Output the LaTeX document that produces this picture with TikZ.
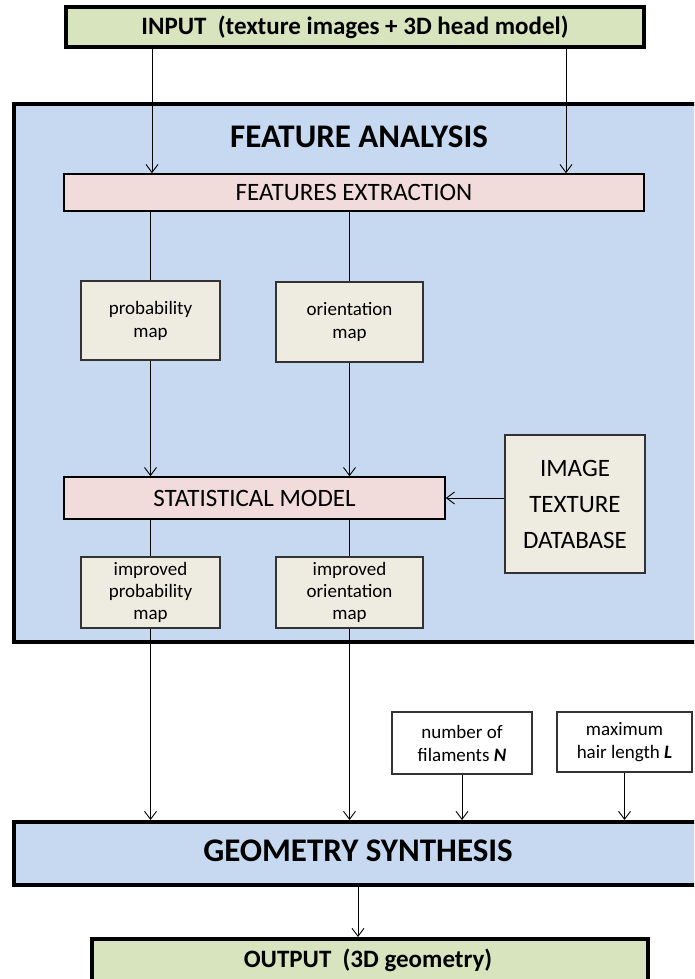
\documentclass[tikz,border=0pt]{standalone}
\usepackage{fontspec}
\setmainfont{Carlito}
\usetikzlibrary{arrows.meta}
\definecolor{grn}{HTML}{D7E4BD}
\definecolor{blu}{HTML}{C6D9F1}
\definecolor{pnk}{HTML}{F2DCDB}
\definecolor{bge}{HTML}{EEECE1}
\begin{document}
\begin{tikzpicture}[x=1pt,y=-1pt,
  bigbox/.style={draw=black, line width=4pt, inner sep=0pt},
  midbox/.style={draw=black, line width=1.6pt, fill=pnk, inner sep=0pt, font=\fontsize{25}{30}\selectfont},
  smallbox/.style={draw=black!80, line width=1.3pt, fill=bge, inner sep=0pt, align=center, font=\fontsize{19}{23}\selectfont},
  parbox/.style={draw=black!80, line width=1.2pt, fill=white, inner sep=0pt, align=center, font=\fontsize{19}{23}\selectfont},
  arr/.style={-{Straight Barb[length=8pt,width=12pt]}, line width=0.9pt},
  ln/.style={line width=0.9pt}]
\useasboundingbox (0,0) rectangle (694,979);
\clip (0,0) rectangle (694,979);
% input
\node[bigbox, fill=grn, minimum width=578pt, minimum height=40pt,
      font=\bfseries\fontsize{25}{30}\selectfont] (in) at (355,27) {INPUT~~(texture images + 3D head model)};
% feature analysis frame
\node[bigbox, fill=blu, minimum width=708pt, minimum height=538pt, anchor=north west] (fa) at (12,102) {};
\node[font=\bfseries\fontsize{33}{40}\selectfont, inner sep=0pt] (fat) at (359,137) {FEATURE ANALYSIS};
\node[midbox, minimum width=580pt, minimum height=37pt] (fe) at (354,192.5) {FEATURES EXTRACTION};
\node[smallbox, minimum width=139pt, minimum height=79pt] (pm) at (150.5,320.5) {probability\\map};
\node[smallbox, minimum width=147pt, minimum height=80pt] (om) at (349.5,322) {orientation\\map};
\node[midbox, minimum width=381pt, minimum height=42pt] (sm) at (254.5,498) {STATISTICAL MODEL};
\node[smallbox, minimum width=140pt, minimum height=138pt, font=\fontsize{25}{36}\selectfont] (itd) at (575,504) {IMAGE\\TEXTURE\\DATABASE};
\node[smallbox, minimum width=139pt, minimum height=71pt, font=\fontsize{19}{22}\selectfont] (ipm) at (150.5,592.5) {improved\\probability\\map};
\node[smallbox, minimum width=147pt, minimum height=71pt, font=\fontsize{19}{22}\selectfont] (iom) at (349.5,592.5) {improved\\orientation\\map};
% parameters
\node[parbox, minimum width=140pt, minimum height=62pt] (nf) at (462,743) {number of\\filaments \textbf{\textit{N}}};
\node[parbox, minimum width=135pt, minimum height=60pt] (mh) at (624.5,742) {maximum\\hair length \textbf{\textit{L}}};
% geometry synthesis
\node[bigbox, fill=blu, minimum width=708pt, minimum height=63pt, anchor=north west] (gs) at (12,820) {};
\node[font=\bfseries\fontsize{33}{40}\selectfont, inner sep=0pt] (gst) at (358,851) {GEOMETRY SYNTHESIS};
% output
\node[bigbox, fill=grn, minimum width=556pt, minimum height=60pt, anchor=north west,
      font=\bfseries\fontsize{25}{30}\selectfont] (out) at (90,937) {};
\node[font=\bfseries\fontsize{25}{30}\selectfont, inner sep=0pt] (outt) at (368,960) {OUTPUT~~(3D geometry)};
% connectors
\draw[arr] (in.south -| 152,0) -- (fe.north -| 152,0);
\draw[arr] (in.south -| 566,0) -- (fe.north -| 566,0);
\draw[ln] (fe.south -| pm.north) -- (pm.north);
\draw[ln] (fe.south -| om.north) -- (om.north);
\draw[arr] (pm.south) -- (sm.north -| pm.south);
\draw[arr] (om.south) -- (sm.north -| om.south);
\draw[arr] (itd.west |- sm.east) -- (sm.east);
\draw[ln] (sm.south -| ipm.north) -- (ipm.north);
\draw[ln] (sm.south -| iom.north) -- (iom.north);
\draw[arr] (ipm.south) -- (gs.north -| ipm.south);
\draw[arr] (iom.south) -- (gs.north -| iom.south);
\draw[arr] (nf.south) -- (gs.north -| nf.south);
\draw[arr] (mh.south) -- (gs.north -| mh.south);
\draw[arr] (gs.south -| gst.south) -- (out.north -| gst.south);
\end{tikzpicture}
\end{document}
